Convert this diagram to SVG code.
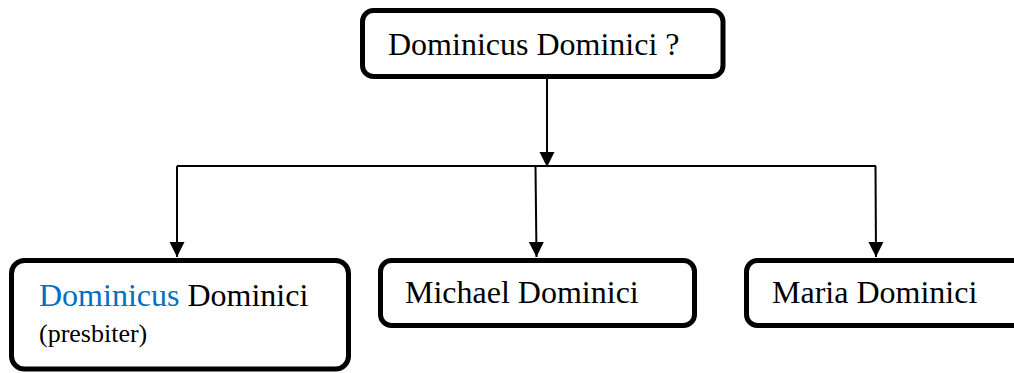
<svg xmlns="http://www.w3.org/2000/svg" width="1014" height="373" viewBox="0 0 1014 373">
<style>
.box{fill:#fff;stroke:#000;stroke-width:5}
.t{font-family:"Liberation Serif","Times New Roman",serif;font-size:32px;fill:#000}
.s{font-size:26px}
.blue{fill:#0070C0}
.c{fill:none;stroke:#000;stroke-width:2}
</style>
<defs>
<marker id="arr" markerUnits="userSpaceOnUse" markerWidth="16" markerHeight="16" viewBox="0 0 16 16" refX="15" refY="8" orient="auto">
<path d="M0,0.5 L15,8 L0,15.5 Z" fill="#000"/>
</marker>
</defs>
<g id="connectors">
<line class="c" x1="547" y1="79" x2="547" y2="167" marker-end="url(#arr)"/>
<line class="c" x1="177" y1="166" x2="876" y2="166"/>
<line class="c" x1="177" y1="166" x2="177" y2="257" marker-end="url(#arr)"/>
<line class="c" x1="535.5" y1="166" x2="536.5" y2="257" marker-end="url(#arr)"/>
<line class="c" x1="875.5" y1="166" x2="876" y2="257" marker-end="url(#arr)"/>
</g>
<g id="node-top">
<rect class="box" x="362.5" y="10.5" width="360.5" height="66" rx="11"/>
<text class="t" x="388" y="55">Dominicus Dominici ?</text>
</g>
<g id="node-dominicus">
<rect class="box" x="11.5" y="260.5" width="337" height="108.5" rx="13"/>
<text class="t" x="39" y="306"><tspan class="blue">Dominicus</tspan> Dominici</text>
<text class="t s" x="39" y="342">(presbiter)</text>
</g>
<g id="node-michael">
<rect class="box" x="380.5" y="260.5" width="314" height="65" rx="11"/>
<text class="t" x="405" y="303">Michael Dominici</text>
</g>
<g id="node-maria">
<rect class="box" x="746.5" y="260.5" width="300" height="65" rx="11"/>
<text class="t" x="772" y="303">Maria Dominici</text>
</g>
</svg>
